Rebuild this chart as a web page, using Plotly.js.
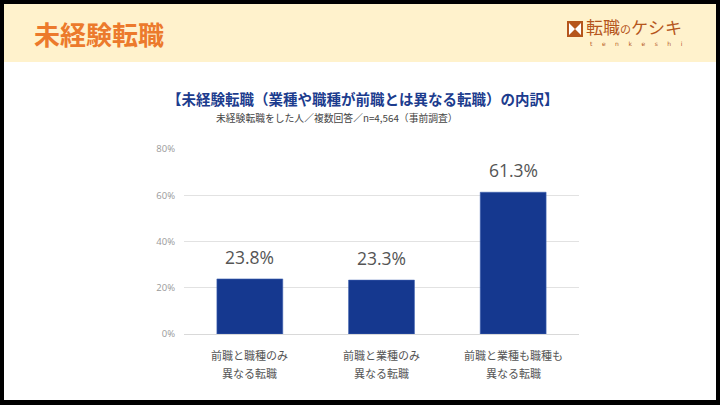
<!DOCTYPE html>
<html>
<head>
<meta charset="utf-8">
<script src="https://cdn.plot.ly/plotly-3.0.1.min.js"></script>
<style>html,body{margin:0;padding:0;background:#fff;}#chart{width:720px;height:405px;}</style>
</head>
<body>
<div id="chart"></div>
<script>
const categories = ["前職と職種のみ異なる転職", "前職と業種のみ異なる転職", "前職と業種も職種も異なる転職"];
const tickLine1 = ["前職と職種のみ", "前職と業種のみ", "前職と業種も職種も"];
const tickLine2 = ["異なる転職", "異なる転職", "異なる転職"];
const values = [23.8, 23.3, 61.3];
const yTickVals = [0, 20, 40, 60, 80];
const yTickText = ["0%", "20%", "40%", "60%", "80%"];
const headerTitle = "未経験転職";
const chartTitle = "【未経験転職（業種や職種が前職とは異なる転職）の内訳】";
const chartSubtitle = "未経験転職をした人／複数回答／n=4,564（事前調査）";

const W = 720, H = 405;
const px = x => x / W;
const py = y => 1 - y / H;
const JP = "'Noto Sans CJK JP', 'Noto Sans', sans-serif";

const trace = {
  type: "bar",
  x: categories,
  y: values,
  width: 0.5,
  marker: {color: "#15388f", line: {color: "#3d5fb0", width: 0.6}},
  hoverinfo: "skip"
};

const annotations = [];
categories.forEach((c, i) => {
  annotations.push({x: c, y: values[i], xref: "x", yref: "y", text: values[i].toFixed(1) + "%",
    showarrow: false, yanchor: "bottom", yshift: 8,
    font: {family: "'Open Sans', 'Noto Sans', sans-serif", size: 17.5, color: "#555"}});
  annotations.push({x: c, y: 0, xref: "x", yref: "y", text: tickLine1[i], showarrow: false,
    yanchor: "middle", yshift: -21, font: {family: JP, size: 11, color: "#555"}});
  annotations.push({x: c, y: 0, xref: "x", yref: "y", text: tickLine2[i], showarrow: false,
    yanchor: "middle", yshift: -39, font: {family: JP, size: 11, color: "#555"}});
});

annotations.push({xref: "paper", yref: "paper", x: px(32), y: py(34), xanchor: "left", yanchor: "middle",
  text: "<b>" + headerTitle + "</b>", showarrow: false, font: {family: JP, size: 26, color: "#ec7a2c"}});
annotations.push({xref: "paper", yref: "paper", x: px(363), y: py(98), xanchor: "center", yanchor: "middle",
  text: "<b>" + chartTitle + "</b>", showarrow: false, font: {family: JP, size: 14.5, color: "#1c3c8e"}});
annotations.push({xref: "paper", yref: "paper", x: px(337), y: py(118), xanchor: "center", yanchor: "middle",
  text: chartSubtitle, showarrow: false, font: {family: JP, size: 9.8, color: "#444"}});
// logo text
annotations.push({xref: "paper", yref: "paper", x: px(584), y: py(27), xanchor: "left", yanchor: "middle",
  text: "転職<span style='font-size:11px'>の</span>ケシキ", showarrow: false,
  font: {family: "'Noto Sans CJK JP', serif", size: 17, color: "#b5561c"}});
annotations.push({xref: "paper", yref: "paper", x: px(588), y: py(44), xanchor: "left", yanchor: "middle",
  text: "t&nbsp;&nbsp;&nbsp;&nbsp;&nbsp;e&nbsp;&nbsp;&nbsp;&nbsp;&nbsp;n&nbsp;&nbsp;&nbsp;&nbsp;&nbsp;k&nbsp;&nbsp;&nbsp;&nbsp;&nbsp;e&nbsp;&nbsp;&nbsp;&nbsp;&nbsp;s&nbsp;&nbsp;&nbsp;&nbsp;&nbsp;h&nbsp;&nbsp;&nbsp;&nbsp;&nbsp;i",
  showarrow: false, font: {family: "'DejaVu Sans', sans-serif", size: 6, color: "#b5561c"}});

const shapes = [
  // header band
  {type: "rect", xref: "paper", yref: "paper", x0: 0, x1: 1, y0: py(62), y1: 1, fillcolor: "#fff2cc", line: {width: 0}, layer: "below"},
  // logo square
  {type: "rect", xref: "paper", yref: "paper", x0: px(567), x1: px(583), y0: py(37), y1: py(21), fillcolor: "#b5561c", line: {width: 0}},
  // bowtie (white)
  {type: "path", xref: "paper", yref: "paper",
   path: `M ${px(569)} ${py(23)} L ${px(575)} ${py(29)} L ${px(581)} ${py(23)} L ${px(581)} ${py(35)} L ${px(575)} ${py(29)} L ${px(569)} ${py(35)} Z`,
   fillcolor: "#fff", line: {width: 0}},
  // black frame
  {type: "rect", xref: "paper", yref: "paper", x0: 0, x1: px(4), y0: 0, y1: 1, fillcolor: "#000", line: {width: 0}},
  {type: "rect", xref: "paper", yref: "paper", x0: px(716), x1: 1, y0: 0, y1: 1, fillcolor: "#000", line: {width: 0}},
  {type: "rect", xref: "paper", yref: "paper", x0: 0, x1: 1, y0: py(4), y1: 1, fillcolor: "#000", line: {width: 0}},
  {type: "rect", xref: "paper", yref: "paper", x0: 0, x1: 1, y0: 0, y1: py(400), fillcolor: "#000", line: {width: 0}}
];

const layout = {
  width: W, height: H,
  margin: {l: 0, r: 0, t: 0, b: 0},
  paper_bgcolor: "#fff",
  plot_bgcolor: "rgba(0,0,0,0)",
  showlegend: false,
  bargap: 0.5,
  xaxis: {domain: [px(184), px(579)], range: [-0.5, 2.5], showticklabels: false, showgrid: false,
    zeroline: false, showline: false, ticks: "", fixedrange: true},
  yaxis: {domain: [py(334), py(149)], range: [0, 80], tickvals: yTickVals, ticktext: yTickText,
    showgrid: true, gridcolor: "#e2e2e2", gridwidth: 1, zeroline: true, zerolinecolor: "#d9d9d9",
    showline: false, ticks: "", ticklabelstandoff: 8,
    tickfont: {family: "'Open Sans', 'Noto Sans', sans-serif", size: 9.5, color: "#9a9a9a"}, fixedrange: true},
  annotations: annotations,
  shapes: shapes
};

Plotly.newPlot("chart", [trace], layout, {displayModeBar: false, staticPlot: true});
</script>
</body>
</html>
